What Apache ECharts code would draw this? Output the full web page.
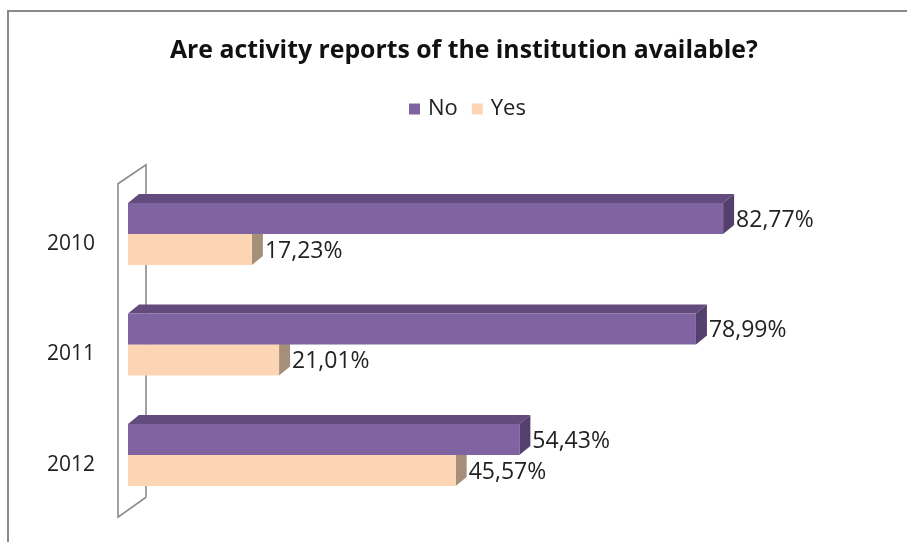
<!DOCTYPE html>
<html>
<head>
<meta charset="utf-8">
<script src="https://cdn.jsdelivr.net/npm/echarts@6/dist/echarts.min.js"></script>
<style>
  html, body { margin: 0; padding: 0; background: #ffffff; }
  #chart { width: 907px; height: 542px; }
</style>
</head>
<body>
<div id="chart"></div>
<script>
// Survey answers per year (percent of respondents)
const categories = ['2010', '2011', '2012'];
const noValues = [82.77, 78.99, 54.43];
const yesValues = [17.23, 21.01, 45.57];
const seriesNames = ['No', 'Yes'];
const titleText = 'Are activity reports of the institution available?';

const FONT = '"Open Sans", Lato, sans-serif';

// Layout of the plot area
const GRID_LEFT = 128;
const GRID_TOP = 178.75;
const GRID_HEIGHT = 331.5;
const GRID_WIDTH = 719;

// Depth of the extruded bars
const DEPTH_X = 11;
const DEPTH_Y = 9;
const BAR_RATIO = 0.281;

const palette = {
  No:  { front: '#8064A2', top: '#634B7D', side: '#54406C' },
  Yes: { front: '#FCD5B5', top: '#D9B798', side: '#A68F79' }
};

function fmt(v) {
  return v.toFixed(2).replace('.', ',') + '%';
}

// Draws one extruded bar: front face, top face, right side face and value label
function makeRender(slot, colors) {
  return function (params, api) {
    const v = api.value(0);
    const c = api.value(1);
    const base = api.coord([0, c]);
    const tip = api.coord([v, c]);
    const band = api.size([0, 1])[1];
    const h = band * BAR_RATIO;
    const y0 = base[1] + (slot === 0 ? -h : 0);
    const x0 = base[0];
    const x1 = tip[0];
    const dx = DEPTH_X, dy = DEPTH_Y;
    return {
      type: 'group',
      children: [
        {
          type: 'polygon',
          shape: { points: [[x0, y0], [x1, y0], [x1 + dx, y0 - dy], [x0 + dx, y0 - dy]] },
          style: { fill: colors.top }
        },
        {
          type: 'polygon',
          shape: { points: [[x1, y0], [x1 + dx, y0 - dy], [x1 + dx, y0 + h - dy], [x1, y0 + h]] },
          style: { fill: colors.side }
        },
        {
          type: 'rect',
          shape: { x: x0, y: y0, width: x1 - x0, height: h },
          style: { fill: colors.front }
        },
        {
          type: 'text',
          x: x1 + dx + 2,
          y: y0 + h / 2 + 1.5,
          style: {
            text: fmt(v),
            fill: '#222222',
            font: '23px ' + FONT,
            verticalAlign: 'middle',
            align: 'left'
          }
        }
      ]
    };
  };
}

const chart = echarts.init(document.getElementById('chart'), null, { renderer: 'canvas' });

// Side wall of the category axis
const wallFrontX = GRID_LEFT - 10;
const wallBackX = GRID_LEFT + 18;
const wallTopFront = GRID_TOP + 5;
const wallTopBack = GRID_TOP - 14;
const wallBottomFront = GRID_TOP + GRID_HEIGHT + 7;
const wallBottomBack = GRID_TOP + GRID_HEIGHT - 13;

chart.setOption({
  backgroundColor: '#ffffff',
  animation: false,
  title: {
    text: titleText,
    left: 165,
    top: 33,
    textStyle: { fontFamily: FONT, fontWeight: 'bold', fontSize: 24.8, color: '#111111' }
  },
  legend: {
    data: seriesNames,
    left: 404,
    top: 93,
    icon: 'rect',
    itemWidth: 11,
    itemHeight: 11,
    itemGap: 14,
    textStyle: { fontFamily: FONT, fontSize: 22, color: '#222222', padding: [0, 0, 0, 3] }
  },
  graphic: [
    {
      type: 'polyline',
      z: -1,
      shape: { points: [[8, 560], [8, 11], [920, 11]] },
      style: { stroke: '#8a8a8a', lineWidth: 2, fill: null }
    },
    {
      type: 'polyline',
      z: -1,
      shape: { points: [
        [wallBackX, wallBottomBack], [wallBackX, wallTopBack], [wallFrontX, wallTopFront],
        [wallFrontX, wallBottomFront], [wallBackX, wallBottomBack]
      ] },
      style: { stroke: '#8c8c8c', lineWidth: 1.6, fill: null }
    }
  ],
  grid: { left: GRID_LEFT, top: GRID_TOP, width: GRID_WIDTH, height: GRID_HEIGHT },
  xAxis: {
    type: 'value',
    min: 0,
    max: 100,
    show: false
  },
  yAxis: {
    type: 'category',
    data: categories,
    inverse: true,
    axisLine: { show: false },
    axisTick: { show: false },
    splitLine: { show: false },
    axisLabel: {
      margin: 33,
      fontFamily: FONT,
      fontSize: 21,
      color: '#222222',
      verticalAlign: 'top',
      lineHeight: 20
    }
  },
  series: [
    {
      name: seriesNames[0],
      type: 'custom',
      z: 3,
      itemStyle: { color: palette.No.front },
      encode: { x: 0, y: 1 },
      data: noValues.map((v, i) => [v, categories[i]]),
      renderItem: makeRender(0, palette.No)
    },
    {
      name: seriesNames[1],
      type: 'custom',
      z: 2,
      itemStyle: { color: palette.Yes.front },
      encode: { x: 0, y: 1 },
      data: yesValues.map((v, i) => [v, categories[i]]),
      renderItem: makeRender(1, palette.Yes)
    }
  ]
});
</script>
</body>
</html>
